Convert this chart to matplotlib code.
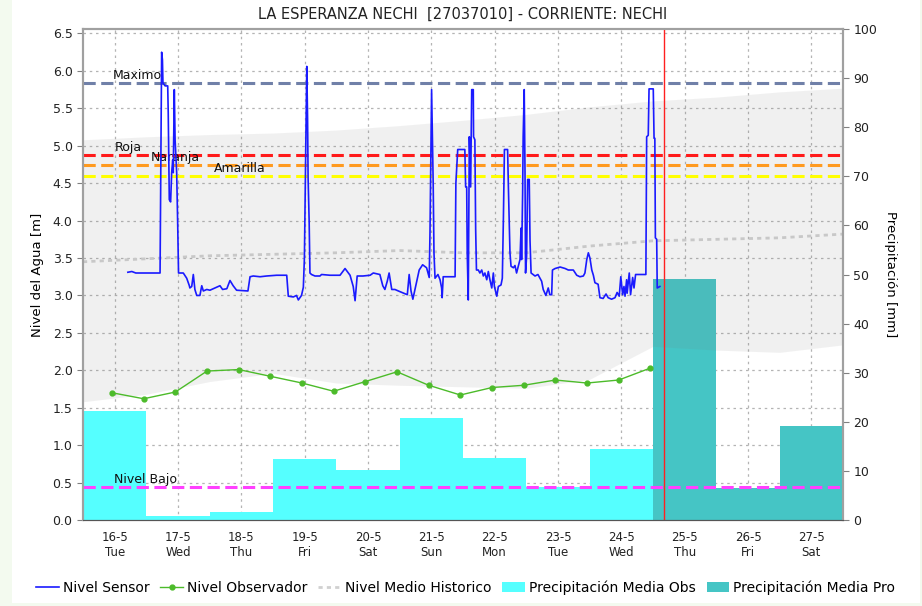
import matplotlib
matplotlib.use("Agg")
import matplotlib.pyplot as plt
from matplotlib.lines import Line2D
from matplotlib.patches import Patch, Rectangle

# ---- data (x positions in hours from 16-5 00:00) ----
title = "LA ESPERANZA NECHI  [27037010] - CORRIENTE: NECHI"
days = ["16-5", "17-5", "18-5", "19-5", "20-5", "21-5",
        "22-5", "23-5", "24-5", "25-5", "26-5", "27-5"]
weekdays = ["Tue", "Wed", "Thu", "Fri", "Sat", "Sun",
            "Mon", "Tue", "Wed", "Thu", "Fri", "Sat"]

# daily precipitation [mm]
precip_obs = [22.2, 0.8, 1.6, 12.4, 10.2, 20.8, 12.6, 6.7, 14.5]
precip_pro = [49.1, 6.5, 19.1]

# observer readings [m]
obs_hours = [11, 23, 35, 47, 59, 71, 83, 95, 107, 119, 131, 143,
             155, 167, 179, 191, 203, 215]
obs_level = [1.70, 1.62, 1.71, 1.99, 2.01, 1.92, 1.83, 1.72, 1.85,
             1.98, 1.80, 1.67, 1.77, 1.80, 1.87, 1.83, 1.87, 2.03]

# historical band and mean [m]
hist_hours = [0, 24, 48, 72, 96, 120, 144, 168, 192, 216, 240, 264, 288]
hist_low = [1.58, 1.68, 1.85, 1.96, 1.83, 1.80, 1.78, 1.76, 1.88,
            2.32, 2.27, 2.24, 2.34]
hist_high = [5.08, 5.12, 5.15, 5.17, 5.21, 5.27, 5.34, 5.42, 5.52,
             5.60, 5.65, 5.72, 5.77]
hist_mean = [3.45, 3.49, 3.53, 3.55, 3.57, 3.60, 3.57, 3.57, 3.66,
             3.73, 3.75, 3.77, 3.82]

# sensor level [m]
sensor_hours = [
    17.0, 18.5, 20.0, 29.2, 29.8, 30.1, 30.3, 31.1, 32.1, 32.3, 32.7, 33.2,
    33.6, 34.0, 34.2, 34.6, 34.9, 35.5, 35.9, 36.2, 38.0, 39.3, 40.3, 40.5,
    41.2, 41.8, 42.4, 43.1, 44.3, 45.0, 45.6, 46.9, 48.1, 50.0, 51.9, 52.9,
    54.5, 55.7, 56.9, 58.2, 62.5, 63.3, 64.5, 67.1, 69.6, 73.4, 77.2, 77.8,
    79.7, 80.9, 81.6, 82.8, 83.5, 83.9, 84.8, 85.1, 85.3, 85.7, 86.0, 86.6,
    87.9, 89.8, 90.4, 93.6, 97.4, 99.3, 101.2, 102.4, 103.1, 103.9, 106.1,
    108.8, 110.0, 112.5, 113.6, 114.4, 115.3, 116.0, 117.0, 118.2, 119.5,
    122.9, 123.6, 124.3, 125.0, 125.8, 127.4, 128.7, 130.2, 131.2, 131.5,
    131.9, 132.1, 132.4, 132.7, 133.0, 133.4, 134.5, 135.3, 135.9, 136.1,
    136.5, 141.0, 141.1, 141.3, 142.0, 144.7, 145.0, 145.4, 145.6, 146.0,
    146.4, 146.9, 147.3, 147.9, 148.0, 148.5, 148.8, 149.1, 149.8, 150.4,
    151.1, 151.7, 152.3, 153.0, 153.6, 154.2, 154.9, 155.5, 155.9, 156.8,
    157.4, 158.4, 158.9, 159.3, 159.7, 160.9, 161.2, 161.8, 162.2, 163.1,
    163.7, 164.3, 165.6, 166.0, 166.2, 166.6, 166.8, 167.2, 167.5, 167.7,
    168.1, 168.5, 169.1, 169.4, 169.8, 171.3, 172.4, 173.8, 174.4, 175.4,
    176.3, 176.9, 177.6, 177.9, 178.9, 180.8, 182.7, 183.9, 185.8, 187.1,
    188.3, 189.6, 190.2, 190.9, 191.5, 192.1, 192.8, 193.4, 194.0, 195.2,
    195.9, 197.1, 198.2, 199.0, 200.3, 201.6, 202.4, 203.2, 203.8, 204.5,
    205.0, 205.4, 206.0, 206.2, 207.0, 207.5, 208.3, 208.8, 209.4, 213.3,
    213.4, 213.6, 214.2, 214.5, 216.1, 216.4, 216.7, 216.9, 217.4, 217.6,
    218.6]
sensor_level = [
    3.31, 3.32, 3.30, 3.30, 6.25, 6.15, 5.84, 5.80, 5.80, 5.44, 4.28, 4.25,
    4.64, 4.81, 4.64, 5.75, 5.08, 4.64, 3.92, 3.30, 3.30, 3.23, 3.13, 3.10,
    3.12, 3.28, 3.08, 3.00, 3.00, 3.13, 3.06, 3.08, 3.07, 3.10, 3.13, 3.08,
    3.09, 3.20, 3.13, 3.07, 3.06, 3.25, 3.26, 3.25, 3.26, 3.27, 3.27, 2.99,
    2.98, 3.00, 2.94, 3.00, 3.11, 3.50, 6.06, 5.37, 4.57, 3.99, 3.30, 3.28,
    3.26, 3.26, 3.28, 3.27, 3.27, 3.36, 3.27, 3.12, 2.93, 3.26, 3.26,
    3.27, 3.30, 3.28, 3.13, 3.08, 3.19, 3.30, 3.08, 3.08, 3.06,
    3.01, 3.28, 3.06, 2.95, 3.08, 3.34, 3.41, 3.37, 3.24, 3.85,
    5.10, 5.75, 5.10, 4.50, 3.57, 3.23, 3.28, 3.21, 3.10, 2.97,
    3.25, 3.25, 3.65, 4.50, 4.95, 4.95, 4.45, 4.45, 3.57, 2.94,
    5.12, 4.45, 5.75, 5.75, 5.12, 5.08, 3.88, 3.34, 3.34, 3.30,
    3.34, 3.26, 3.30, 3.21, 3.32, 3.21, 3.10, 3.30, 3.12, 2.99,
    3.12, 3.14, 3.23, 4.01, 4.95, 4.95, 4.45, 3.57, 3.39, 3.37,
    3.40, 3.30, 3.48, 3.90, 3.48, 4.37, 5.12, 5.75, 4.64, 3.30,
    3.52, 4.55, 4.55, 3.73, 3.30, 3.26, 3.28, 3.19, 3.08, 3.00,
    3.10, 3.01, 3.01, 3.34, 3.36, 3.38, 3.36, 3.34, 3.34, 3.27,
    3.25, 3.26, 3.30, 3.48, 3.57, 3.50, 3.34, 3.27, 3.17, 3.15,
    2.97, 2.96, 3.02, 2.97, 2.95, 2.97, 3.04, 2.99, 3.25, 3.01,
    3.12, 2.99, 3.21, 3.03, 3.30, 3.01, 3.24, 3.10, 3.28, 3.28,
    3.88, 5.12, 5.14, 5.76, 5.76, 5.10, 5.10, 3.77, 3.75, 3.10,
    3.12]

# alert levels [m]
level_names = ["Maximo", "Roja", "Naranja", "Amarilla", "Nivel Bajo"]
level_values = [5.84, 4.88, 4.74, 4.60, 0.44]
level_colors = ["#7080a8", "#ff1a1a", "#ff9a1f", "#ffff00", "#ff40ff"]
label_hours = [11.4, 12.1, 25.8, 49.6, 11.7]

now_hour = 220

# ---- figure ----
fig = plt.figure(figsize=(9.22, 6.06), dpi=100, facecolor="#f3faef")
fig.patches.append(Rectangle((12 / 922, 3 / 606), 908 / 922, 1.0,
                             transform=fig.transFigure, facecolor="white",
                             edgecolor="none", zorder=-10))
ax = fig.add_axes([83 / 922, 1 - 520 / 606, 760 / 922, 491 / 606])
ax2 = ax.twinx()

# grid under everything
ax.set_axisbelow(True)
ax.grid(True, color="#b4b4b4", linestyle=(0, (2, 3)), linewidth=0.9)

# precipitation bars, drawn in mm through the right axis scale
day_centers = [12 + 24 * i for i in range(len(days))]
n_obs = len(precip_obs)
ax.bar(day_centers[:n_obs], precip_obs, width=24, color="#55ffff",
       transform=ax2.transData, zorder=1, linewidth=0)
ax.bar(day_centers[n_obs:], precip_pro, width=24, color="#45c5c5",
       transform=ax2.transData, zorder=1, linewidth=0)

# historical band
ax.fill_between(hist_hours, hist_low, hist_high, color="#7b7b7b",
                alpha=0.11, linewidth=0, zorder=1.5)
ax.plot(hist_hours, hist_mean, color="#c8c8c8", linewidth=2,
        linestyle=(0, (1.5, 1.5)), zorder=2)

# alert levels
for name, val, col, lx in zip(level_names, level_values, level_colors, label_hours):
    ax.axhline(val, color=col, linewidth=2.2, linestyle=(0, (4, 1.8)), zorder=2.5)
    ax.text(lx, val + 0.01, name, fontsize=9, va="bottom", ha="left",
            color="#111111", zorder=3)

ax.plot(obs_hours, obs_level, color="#4cbb2a", linewidth=1, marker="o",
        markersize=3.5, zorder=3)
ax.plot(sensor_hours, sensor_level, color="#1a1aff", linewidth=1.2, zorder=4)
ax.axvline(now_hour, color="#ff2020", linewidth=1, zorder=4.5)

# axes setup
ax.set_xlim(0, 288)
ax.set_ylim(0, 6.56)
ax2.set_ylim(0, 100)
ax.set_yticks([i * 0.5 for i in range(14)])
ax.set_yticklabels(["%.1f" % (i * 0.5) for i in range(14)])
ax2.set_yticks(range(0, 101, 10))
ax.set_xticks(day_centers)
ax.set_xticklabels([d + "\n" + w for d, w in zip(days, weekdays)])

ax.tick_params(axis="y", labelsize=9, length=4, color="#808080", labelcolor="#222222")
ax2.tick_params(axis="y", labelsize=9, length=4, color="#808080", labelcolor="#222222")
ax.tick_params(axis="x", labelsize=8.5, length=0, pad=8, labelcolor="#222222")

for a in (ax, ax2):
    for side in ("left", "right", "top"):
        a.spines[side].set_color("#a0a0a0")
        a.spines[side].set_linewidth(1.5)
    a.spines["bottom"].set_color("#555555")
    a.spines["bottom"].set_linestyle((0, (1, 1)))

ax.set_ylabel("Nivel del Agua [m]", fontsize=9.5, labelpad=6)
ax2.set_ylabel("Precipitación [mm]", fontsize=9.5, rotation=-90, labelpad=14)
ax.set_title(title, fontsize=10.5, pad=7, color="#222222")

handles = [
    Line2D([], [], color="#1a1aff", linewidth=1.2),
    Line2D([], [], color="#4cbb2a", linewidth=1, marker="o", markersize=3.5),
    Line2D([], [], color="#d0d0d0", linewidth=2, linestyle=(0, (1.5, 1.5))),
    Patch(facecolor="#55ffff"),
    Patch(facecolor="#45c5c5"),
]
labels = ["Nivel Sensor", "Nivel Observador", "Nivel Medio Historico",
          "Precipitación Media Obs", "Precipitación Media Pro"]
fig.legend(handles, labels, loc="center", bbox_to_anchor=(0.505, 0.03),
           ncol=5, frameon=False, fontsize=10, handlelength=1.6,
           handletextpad=0.3, columnspacing=0.8)

fig.savefig("out.png", dpi=100, facecolor=fig.get_facecolor())
